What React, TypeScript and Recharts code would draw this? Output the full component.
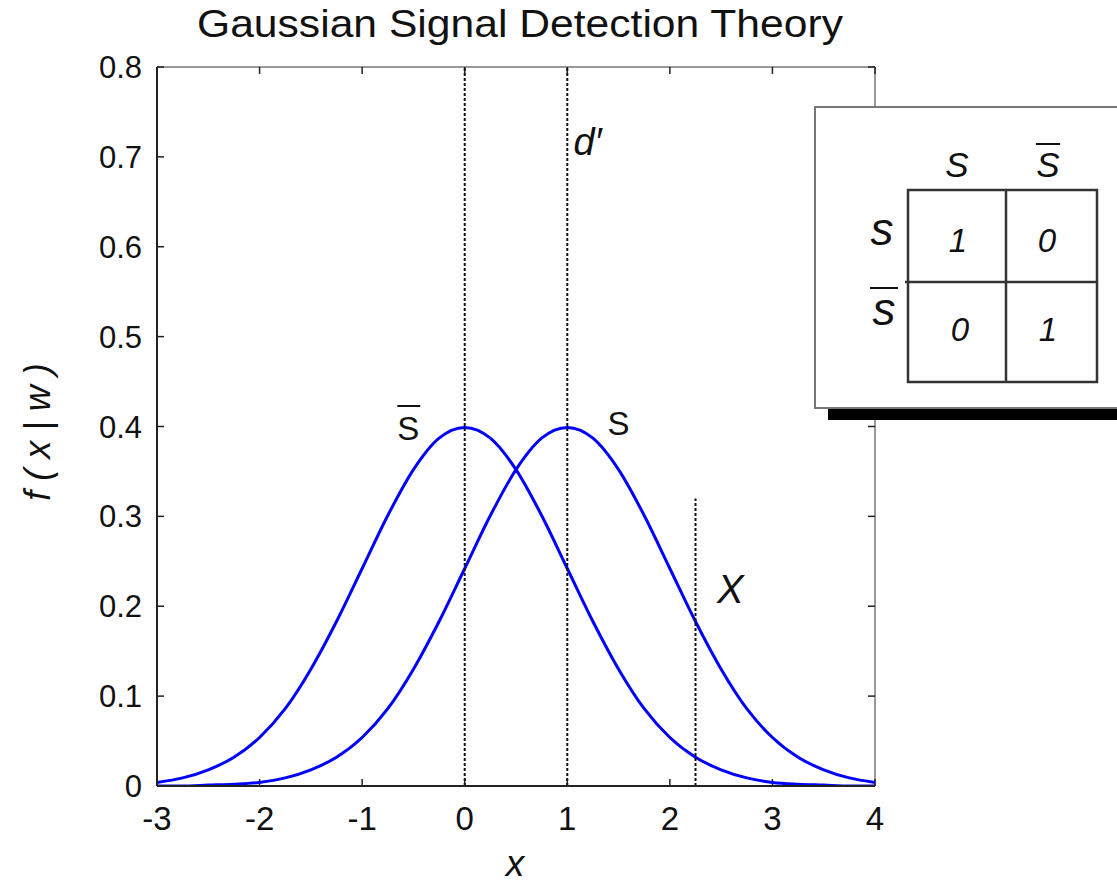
import { LineChart, Line, XAxis, YAxis, ReferenceLine, ReferenceDot } from "recharts";

// sample points along x and the two densities read at each one
const xs = [
  -3, -2.75, -2.5, -2.25, -2, -1.75, -1.5, -1.25, -1, -0.75, -0.5, -0.25, 0, 0.25, 0.5, 0.75,
  1, 1.25, 1.5, 1.75, 2, 2.25, 2.5, 2.75, 3, 3.25, 3.5, 3.75, 4,
];
const noise = [
  0.004, 0.009, 0.018, 0.032, 0.054, 0.086, 0.13, 0.183, 0.242, 0.301, 0.352, 0.387, 0.399, 0.387,
  0.352, 0.301, 0.242, 0.183, 0.13, 0.086, 0.054, 0.032, 0.018, 0.009, 0.004, 0.002, 0.001, 0.0,
  0.0,
];
const signal = [
  0.0, 0.0, 0.001, 0.002, 0.004, 0.009, 0.018, 0.032, 0.054, 0.086, 0.13, 0.183, 0.242, 0.301,
  0.352, 0.387, 0.399, 0.387, 0.352, 0.301, 0.242, 0.183, 0.13, 0.086, 0.054, 0.032, 0.018, 0.009,
  0.004,
];

const xTicks = [-3, -2, -1, 0, 1, 2, 3, 4];
const yTicks = [0, 0.1, 0.2, 0.3, 0.4, 0.5, 0.6, 0.7, 0.8];

const noiseMean = 0;
const signalMean = 1;
const criterion = 2.25;
const criterionTop = 0.32;

const FONT = "'Liberation Sans', Arial, Helvetica, sans-serif";
const X_DOMAIN: [number, number] = [-3, 4];
const Y_DOMAIN: [number, number] = [0, 0.8];
const TICK_X = 0.068; // inner tick length in x units (~7px)
const TICK_Y = 0.0078; // inner tick length in y units (~7px)

const data = xs.map((x, i) => ({ x, noise: noise[i], signal: signal[i] }));

const YTick = (props: any) => (
  <text x={props.x} y={props.y} dy={11} textAnchor="end" fontSize={31} fontFamily={FONT} fill="#111">
    {props.payload.value}
  </text>
);

const XTick = (props: any) => (
  <text x={props.x} y={props.y} dy={44} textAnchor="middle" fontSize={33} fontFamily={FONT} fill="#111">
    {props.payload.value}
  </text>
);

// text label anchored at a data point, optionally with an overbar
const labelShape = (text: string, opts: { bar?: boolean; italic?: boolean; anchor?: string; size?: number }) =>
  (p: any) => {
    const size = opts.size ?? 32;
    return (
      <g>
        {opts.bar && (
          <line x1={p.cx - 11} x2={p.cx + 12} y1={p.cy - 34} y2={p.cy - 34} stroke="#111" strokeWidth={2} />
        )}
        <text
          x={p.cx}
          y={p.cy}
          textAnchor={opts.anchor ?? "middle"}
          fontSize={size}
          fontStyle={opts.italic ? "italic" : "normal"}
          fontFamily={FONT}
          fill="#111"
        >
          {text}
        </text>
      </g>
    );
  };

const dotted = { stroke: "#111", strokeWidth: 2, strokeDasharray: "3 2" };

function PayoffTable() {
  const t = { fontFamily: FONT, fill: "#111" };
  return (
    <g>
      <rect x={828} y={120} width={320} height={300} fill="#000" />
      <rect x={815} y={107} width={320} height={301} fill="#fff" stroke="#777" strokeWidth={2} />
      <rect x={908} y={190} width={189} height={192} fill="none" stroke="#333" strokeWidth={2.5} />
      <line x1={1006} x2={1006} y1={190} y2={382} stroke="#333" strokeWidth={2.5} />
      <line x1={905} x2={1097} y1={282} y2={282} stroke="#333" strokeWidth={2.5} />

      <text x={957} y={177} textAnchor="middle" fontSize={35} fontStyle="italic" {...t}>S</text>
      <line x1={1036} x2={1060} y1={144} y2={144} stroke="#111" strokeWidth={2} />
      <text x={1048} y={177} textAnchor="middle" fontSize={35} fontStyle="italic" {...t}>S</text>

      <text x={882} y={245} textAnchor="middle" fontSize={46} fontStyle="italic" {...t}>s</text>
      <line x1={870} x2={898} y1={288} y2={288} stroke="#111" strokeWidth={2} />
      <text x={884} y={325} textAnchor="middle" fontSize={46} fontStyle="italic" {...t}>s</text>

      <text x={958} y={252} textAnchor="middle" fontSize={33} fontStyle="italic" {...t}>1</text>
      <text x={1047} y={252} textAnchor="middle" fontSize={33} fontStyle="italic" {...t}>0</text>
      <text x={960} y={341} textAnchor="middle" fontSize={33} fontStyle="italic" {...t}>0</text>
      <text x={1048} y={341} textAnchor="middle" fontSize={33} fontStyle="italic" {...t}>1</text>
    </g>
  );
}

export default function App() {
  return (
    <div style={{ position: "absolute", left: 0, top: 0, width: 1117, height: 885, overflow: "hidden", background: "#fff" }}>
      <LineChart width={1117} height={885} data={data} margin={{ top: 67, right: 242, bottom: 59, left: 97 }}>
        <XAxis
          dataKey="x"
          type="number"
          domain={X_DOMAIN}
          ticks={xTicks}
          allowDataOverflow
          height={40}
          tickSize={0}
          tickMargin={0}
          tickLine={false}
          axisLine={{ stroke: "#222", strokeWidth: 2 }}
          tick={XTick}
        />
        <YAxis
          type="number"
          domain={Y_DOMAIN}
          ticks={yTicks}
          allowDataOverflow
          width={60}
          tickSize={0}
          tickMargin={15}
          tickLine={false}
          axisLine={{ stroke: "#222", strokeWidth: 2 }}
          tick={YTick}
        />

        {/* box: top and right edges */}
        <ReferenceLine y={0.8} stroke="#999" strokeWidth={2} />
        <ReferenceLine x={4} stroke="#999" strokeWidth={2} />

        {/* inward tick marks on all four sides */}
        {xTicks.map((t) => (
          <ReferenceLine key={"xb" + t} segment={[{ x: t, y: 0 }, { x: t, y: TICK_Y }]} stroke="#222" strokeWidth={1.5} />
        ))}
        {xTicks.map((t) => (
          <ReferenceLine key={"xt" + t} segment={[{ x: t, y: 0.8 }, { x: t, y: 0.8 - TICK_Y }]} stroke="#222" strokeWidth={1.5} />
        ))}
        {yTicks.map((t) => (
          <ReferenceLine key={"yl" + t} segment={[{ x: -3, y: t }, { x: -3 + TICK_X, y: t }]} stroke="#222" strokeWidth={1.5} />
        ))}
        {yTicks.map((t) => (
          <ReferenceLine key={"yr" + t} segment={[{ x: 4, y: t }, { x: 4 - TICK_X, y: t }]} stroke="#222" strokeWidth={1.5} />
        ))}

        <Line type="monotone" dataKey="noise" stroke="#0000ff" strokeWidth={3} dot={false} isAnimationActive={false} />
        <Line type="monotone" dataKey="signal" stroke="#0000ff" strokeWidth={3} dot={false} isAnimationActive={false} />

        <ReferenceLine x={noiseMean} {...dotted} />
        <ReferenceLine x={signalMean} {...dotted} />
        <ReferenceLine segment={[{ x: criterion, y: 0 }, { x: criterion, y: criterionTop }]} {...dotted} />

        <ReferenceDot x={-0.55} y={0.385} r={0} ifOverflow="visible" shape={labelShape("S", { bar: true, size: 33 })} />
        <ReferenceDot x={1.5} y={0.39} r={0} ifOverflow="visible" shape={labelShape("S", { size: 33 })} />
        <ReferenceDot x={1.06} y={0.702} r={0} ifOverflow="visible" shape={labelShape("d′", { italic: true, anchor: "start", size: 38 })} />
        <ReferenceDot x={2.59} y={0.204} r={0} ifOverflow="visible" shape={labelShape("X", { italic: true, size: 40 })} />
      </LineChart>

      <svg width={1117} height={885} style={{ position: "absolute", left: 0, top: 0, pointerEvents: "none" }}>
        <text x={197} y={37} fontSize={39} fontFamily={FONT} fill="#111" textLength={646} lengthAdjust="spacingAndGlyphs">
          Gaussian Signal Detection Theory
        </text>
        <text
          x={0}
          y={0}
          transform="translate(37 432) rotate(-90)"
          textAnchor="middle"
          dominantBaseline="central"
          fontSize={36}
          fontStyle="italic"
          fontFamily={FONT}
          fill="#111"
        >
          f ( x | w )
        </text>
        <text x={515} y={876} textAnchor="middle" fontSize={37} fontStyle="italic" fontFamily={FONT} fill="#111">
          x
        </text>
        <PayoffTable />
      </svg>
    </div>
  );
}
